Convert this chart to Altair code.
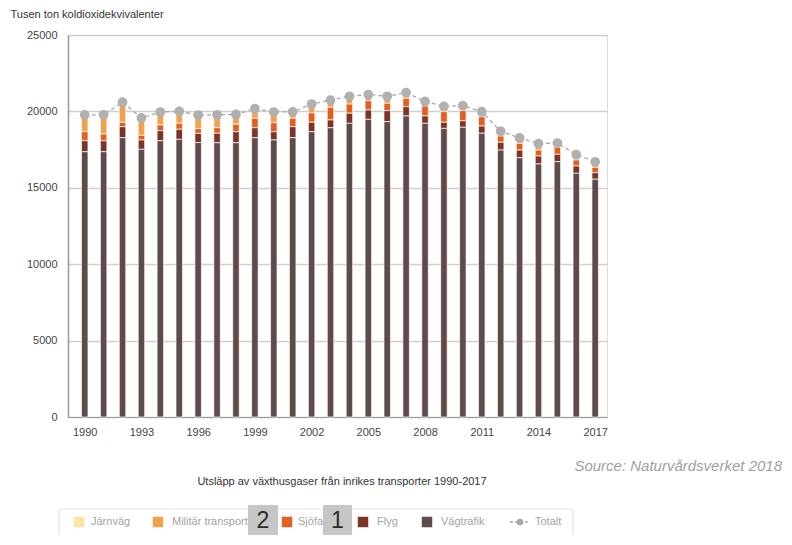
import altair as alt
import pandas as pd

# ---------------- data ----------------
years = list(range(1990, 2018))
vagtrafik = [17360, 17360, 18280, 17520, 18080, 18170, 17960, 17950, 17950, 18280,
             18130, 18280, 18670, 18930, 19220, 19480, 19330, 19700, 19220, 18890,
             18960, 18570, 17470, 16970, 16560, 16710, 15950, 15560]
flyg = [720, 720, 720, 610, 660, 660, 600, 620, 720, 650,
        540, 720, 620, 510, 660, 610, 720, 610, 480, 400,
        430, 470, 510, 500, 520, 480, 480, 430]
sjofart = [590, 440, 290, 300, 370, 390, 310, 360, 490, 620,
           590, 550, 620, 830, 600, 610, 480, 550, 650, 690,
           660, 610, 410, 440, 390, 460, 390, 350]
militar = [950, 1110, 1160, 990, 700, 630, 740, 700, 490, 480,
           550, 270, 420, 320, 360, 250, 310, 220, 150, 200,
           180, 180, 160, 200, 270, 130, 200, 210]
jarnvag = [150, 150, 150, 150, 150, 150, 150, 150, 150, 150,
           150, 150, 150, 150, 150, 150, 150, 150, 150, 150,
           150, 150, 150, 150, 150, 150, 150, 150]
totalt = [19770, 19780, 20600, 19570, 19960, 20000, 19760, 19780, 19800, 20180,
          19960, 19970, 20480, 20740, 20990, 21100, 20990, 21230, 20650, 20330,
          20380, 19980, 18700, 18260, 17890, 17930, 17170, 16700]

series_names = ["Järnväg", "Militär transport", "Sjöfart", "Flyg", "Vägtrafik"]
series_colors = ["#fbe4a8", "#f0a24e", "#e25f1d", "#7b3526", "#5f4b4a"]
x_tick_labels = [1990, 1993, 1996, 1999, 2002, 2005, 2008, 2011, 2014, 2017]
y_tick_values = [0, 5000, 10000, 15000, 20000, 25000]

y_title = "Tusen ton koldioxidekvivalenter"
chart_title = "Utsläpp av växthusgaser från inrikes transporter 1990-2017"
source_text = "Source: Naturvårdsverket 2018"
total_label = "Totalt"

# ---------------- tables ----------------
series_values = [jarnvag, militar, sjofart, flyg, vagtrafik]
rows = []
for i, (name, vals) in enumerate(zip(series_names, series_values)):
    for yr, v in zip(years, vals):
        rows.append({"year": yr, "serie": name, "value": v, "ord": len(series_names) - i})
df = pd.DataFrame(rows)
tot_df = pd.DataFrame({"year": years, "total": totalt})

FONT = "Liberation Sans"
PLOT_W, PLOT_H = 539, 382

x_scale = alt.Scale(domain=[1989.38, 2017.36], nice=False, zero=False)
y_scale = alt.Scale(domain=[0, 25000], nice=False)

x_axis = alt.Axis(values=x_tick_labels, format="d", title=None, grid=False, ticks=False,
                  labelPadding=9, labelFontSize=11, labelColor="#444",
                  domainColor="#999", domainWidth=1.2)
y_axis = alt.Axis(values=y_tick_values, format="d", title=y_title, titleAngle=0,
                  titleX=-58, titleY=-21, titleAlign="left", titleBaseline="middle",
                  titleFontSize=11, titleFontWeight="normal", titleColor="#333",
                  titleFont=FONT,
                  ticks=False, labelPadding=11, labelFontSize=11, labelColor="#444",
                  grid=True, gridColor="#cfcfcf", gridWidth=1.5,
                  domainColor="#999", domainWidth=1.5)

bars = alt.Chart(df).mark_bar(size=6.5, stroke="white", strokeWidth=0.7).encode(
    x=alt.X("year:Q", scale=x_scale, axis=x_axis),
    y=alt.Y("value:Q", stack="zero", scale=y_scale, axis=y_axis),
    color=alt.Color("serie:N", scale=alt.Scale(domain=series_names, range=series_colors),
                    legend=None),
    order=alt.Order("ord:Q", sort="ascending"),
)

line = alt.Chart(tot_df).mark_line(color="#a8a8a8", strokeDash=[4, 3], strokeWidth=1.3).encode(
    x=alt.X("year:Q", scale=x_scale),
    y=alt.Y("total:Q", scale=y_scale),
)
points = alt.Chart(tot_df).mark_point(filled=True, size=95, color="#b0b0b0", opacity=1).encode(
    x=alt.X("year:Q", scale=x_scale),
    y=alt.Y("total:Q", scale=y_scale),
)

# ---------------- annotations ----------------
src = alt.Chart(pd.DataFrame({"t": [source_text]})).mark_text(
    align="right", baseline="middle", font=FONT, fontSize=15, fontStyle="italic", color="#a0a0a0"
).encode(x=alt.value(714), y=alt.value(431), text="t:N")

ttl = alt.Chart(pd.DataFrame({"t": [chart_title]})).mark_text(
    align="center", baseline="middle", font=FONT, fontSize=11, color="#333"
).encode(x=alt.value(274), y=alt.value(447), text="t:N")

# ---------------- legend (manual) ----------------
legend_box = alt.Chart(pd.DataFrame({"a": [0]})).mark_rect(
    fill="white", stroke="#e3e3e3", strokeWidth=1.2, cornerRadius=2
).encode(x=alt.value(-9), x2=alt.value(505), y=alt.value(474), y2=alt.value(501))

swatch_x = [11, 90, 219, 295, 359]
label_x = [23, 104, 230, 309, 373]
leg_df = pd.DataFrame({"label": series_names, "color": series_colors,
                       "sx": swatch_x, "lx": label_x})
LEG_Y = 487
swatches = alt.Chart(leg_df).mark_square(size=110, opacity=1).encode(
    x=alt.X("sx:Q", scale=None), y=alt.value(LEG_Y),
    color=alt.Color("color:N", scale=None),
)
leg_labels = alt.Chart(leg_df).mark_text(
    align="left", baseline="middle", font=FONT, fontSize=11, color="#a3a3a3"
).encode(x=alt.X("lx:Q", scale=None), y=alt.value(LEG_Y), text="label:N")

tot_sym_line = alt.Chart(pd.DataFrame({"a": [0]})).mark_rule(
    color="#a8a8a8", strokeDash=[3, 2], strokeWidth=1.3
).encode(x=alt.value(442), x2=alt.value(462), y=alt.value(LEG_Y))
tot_sym_pt = alt.Chart(pd.DataFrame({"a": [0]})).mark_point(
    filled=True, size=45, color="#a8a8a8", opacity=1
).encode(x=alt.value(452), y=alt.value(LEG_Y))
tot_label = alt.Chart(pd.DataFrame({"t": [total_label]})).mark_text(
    align="left", baseline="middle", font=FONT, fontSize=11, color="#a3a3a3"
).encode(x=alt.value(467), y=alt.value(LEG_Y), text="t:N")

# ---------------- page-number overlays ----------------
box_df = pd.DataFrame({"n": ["2", "1"], "x0": [180, 255], "x1": [210, 284], "xc": [195, 269.5]})
boxes = alt.Chart(box_df).mark_rect(fill="#c6c6c6", opacity=1).encode(
    x=alt.X("x0:Q", scale=None), x2="x1:Q", y=alt.value(470), y2=alt.value(510)
)
box_text = alt.Chart(box_df).mark_text(
    align="center", baseline="middle", font=FONT, fontSize=23, color="#2b2b2b"
).encode(x=alt.X("xc:Q", scale=None), y=alt.value(486), text="n:N")

chart = alt.layer(
    bars, line, points, src, ttl,
    legend_box, swatches, leg_labels, tot_sym_line, tot_sym_pt, tot_label,
    boxes, box_text,
).properties(
    width=PLOT_W, height=PLOT_H,
    autosize=alt.AutoSizeParams(type="none"),
    padding={"left": 60, "top": 27, "right": 176, "bottom": 118},
).configure_view(stroke=None).configure(font=FONT)

chart.save("out.html", embed_options={"renderer": "svg", "actions": False})
